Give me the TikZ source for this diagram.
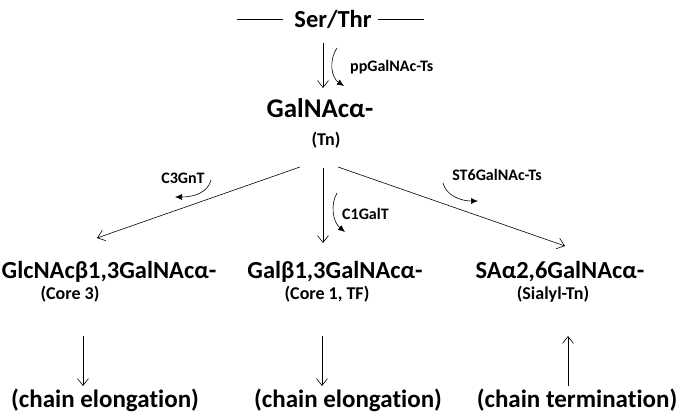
\documentclass[tikz,border=0pt]{standalone}
\usepackage{fontspec}
\setmainfont[Ligatures=NoCommon]{Carlito}
\usetikzlibrary{arrows.meta}

\tikzset{
  sugar/.style={font=\bfseries\fontsize{24.5}{28}\selectfont,inner sep=0pt},
  tag/.style={font=\bfseries\fontsize{18}{21}\selectfont,inner sep=0pt},
  enz/.style={font=\bfseries\fontsize{16}{19}\selectfont,inner sep=0pt},
  route/.style={line width=0.6pt,-{Straight Barb[length=7pt,width=11pt]}},
  act/.style={line width=0.6pt,-{Latex[length=7pt,width=6pt]}}
}

\begin{document}
\begin{tikzpicture}[x=1pt,y=-1pt]
\useasboundingbox (0,0) rectangle (678,417);
% top
\node[sugar](ser)at(333,19){Ser/Thr};
\node[sugar,font=\bfseries\fontsize{27}{30}\selectfont](tnsug)at(320,108){GalNAcα-};
\node[tag](tn)at(326,140){(Tn)};
\draw[line width=0.6pt]([xshift=-11pt]ser.west)--++(-46,0);
\draw[line width=0.6pt]([xshift=6pt]ser.east)--++(46,0);
\coordinate(s1)at(323,43);
\coordinate(s2)at(323,88);
\draw[route](s1)--(s2);
\node[enz,anchor=west](pp)at(350,67){ppGalNAc-Ts};
\draw[act](337,48)..controls(328,62)and(332,78)..(344,86);
% three branches
\node[sugar](core3)at(109,272){GlcNAcβ1,3GalNAcα-};
\node[sugar](core1)at(335,272){Galβ1,3GalNAcα-};
\node[sugar](stn)at(560,272){SAα2,6GalNAcα-};
\node[tag](core3t)at(70,294){(Core 3)};
\node[tag](core1t)at(327,294){(Core 1, TF)};
\node[tag](stnt)at(553,294){(Sialyl-Tn)};
\coordinate(a1)at(300,167);
\coordinate(a2)at(323,168);
\coordinate(a3)at(338,167);
\coordinate(b1)at(97,238);
\coordinate(b2)at(323,243);
\coordinate(b3)at(565,246);
\draw[route](a1)--(b1);
\draw[route](a2)--(b2);
\draw[route](a3)--(b3);
\node[enz](c3)at(183,178){C3GnT};
\draw[act](211,180)..controls(208,192)and(195,197)..(175,197);
\node[enz,anchor=west](c1)at(342,214){C1GalT};
\draw[act](337,193)..controls(330,205)and(333,222)..(345,232);
\node[enz](st6)at(497,175){ST6GalNAc-Ts};
\draw[act](443,183)..controls(446,195)and(460,201)..(478,201);
% fates
\node[sugar,font=\bfseries\fontsize{25}{28}\selectfont](fate1)at(105,400){(chain elongation)};
\node[sugar,font=\bfseries\fontsize{25}{28}\selectfont](fate2)at(348,400){(chain elongation)};
\node[sugar,font=\bfseries\fontsize{25}{28}\selectfont](fate3)at(577,400){(chain termination)};
\draw[route](83,336)--(83,386);
\draw[route](322,336)--(322,386);
\draw[route](568,386)--(568,336);
\end{tikzpicture}
\end{document}
